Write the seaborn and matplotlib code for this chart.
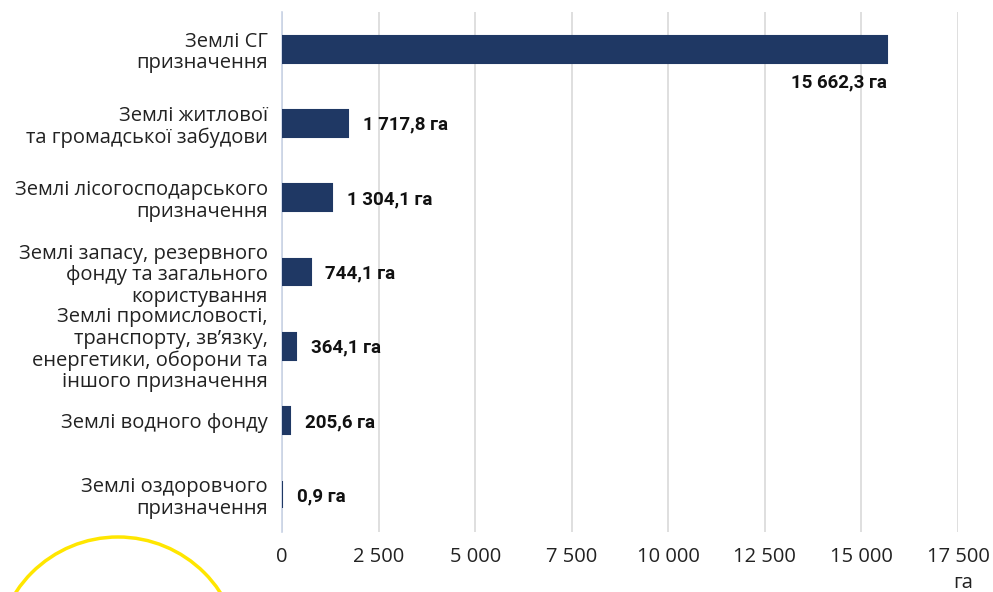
import matplotlib
matplotlib.use("Agg")
import matplotlib.pyplot as plt
import matplotlib.patches as mpatches
import numpy as np
import pandas as pd
import seaborn as sns

categories = [
    "Землі СГ\nпризначення",
    "Землі житлової\nта громадської забудови",
    "Землі лісогосподарського\nпризначення",
    "Землі запасу, резервного\nфонду та загального\nкористування",
    "Землі промисловості,\nтранспорту, зв’язку,\nенергетики, оборони та\nіншого призначення",
    "Землі водного фонду",
    "Землі оздоровчого\nпризначення",
]
values = [15662.3, 1717.8, 1304.1, 744.1, 364.1, 205.6, 0.9]
value_labels = ["15 662,3 га", "1 717,8 га", "1 304,1 га", "744,1 га", "364,1 га", "205,6 га", "0,9 га"]
xticks = [0, 2500, 5000, 7500, 10000, 12500, 15000, 17500]
xtick_labels = ["0", "2 500", "5 000", "7 500", "10 000", "12 500", "15 000", "17 500"]

sns.set_style("white")
plt.rcParams["font.family"] = ["Open Sans", "DejaVu Sans"]

df = pd.DataFrame({"cat": categories, "val": values})

fig = plt.figure(figsize=(9.93, 5.92), dpi=100)
ax = fig.add_axes([282 / 993, 60 / 592, 676 / 993, 520 / 592])

sns.barplot(data=df, x="val", y="cat", orient="h", color="#1F3864",
            saturation=1, width=0.36, ax=ax)
for p in ax.patches:
    p.set_edgecolor("#1F3864")
    p.set_linewidth(1.5)
    p.set_zorder(3)

ax.set_xlim(0, 17500)
ax.set_ylim(6.5, -0.5)
ax.set_xticks(xticks)
ax.set_xticklabels(xtick_labels, fontsize=14.5, color="#222222")
ax.tick_params(axis="x", length=0, pad=11)
ax.tick_params(axis="y", length=0, pad=10)
ax.set_yticks(range(len(categories)))
ax.set_yticklabels(categories, fontsize=14.5, color="#222222", linespacing=1.1)
ax.set_xlabel("")
ax.set_ylabel("")
ax.xaxis.grid(True, color="#D9D9D9", linewidth=1.2)
ax.set_axisbelow(True)
for s in ["top", "right", "bottom"]:
    ax.spines[s].set_visible(False)
ax.spines["left"].set_color("#C9D3E6")
ax.spines["left"].set_linewidth(1.2)

for i, (v, lab) in enumerate(zip(values, value_labels)):
    if i == 0:
        ax.text(v, i + 0.45, lab, ha="right", va="center", fontsize=13.5,
                fontweight="bold", color="#111111", family=["Roboto", "DejaVu Sans"])
    else:
        ax.text(v + 380, i + 0.02, lab, ha="left", va="center", fontsize=13.5,
                fontweight="bold", color="#111111", family=["Roboto", "DejaVu Sans"])

fig.text(963 / 993, 1 - 583 / 592, "га", ha="center", va="center", fontsize=14.5, color="#222222")

# decorative yellow circle in the lower left corner
circ = mpatches.Ellipse((118 / 993, (592 - 659) / 592), 244 / 993, 244 / 592, fill=False,
                        edgecolor="#FFE600", linewidth=2.5, transform=fig.transFigure)
fig.patches.append(circ)

fig.savefig("out.png", dpi=100)
